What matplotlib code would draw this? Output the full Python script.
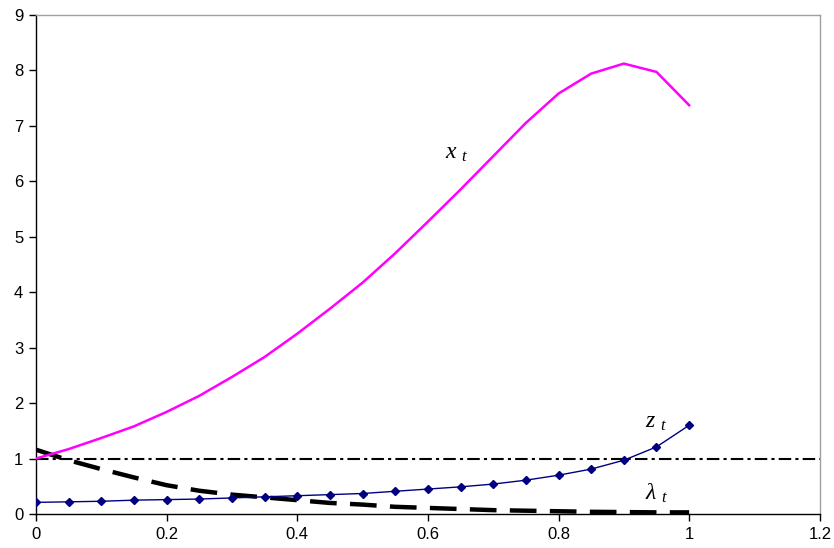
import matplotlib
matplotlib.use("Agg")
import matplotlib.pyplot as plt
import numpy as np

plt.rcParams['font.family'] = ['Liberation Sans', 'DejaVu Sans']
plt.rcParams['mathtext.fontset'] = 'custom'
plt.rcParams['mathtext.it'] = 'Liberation Serif:italic'
plt.rcParams['mathtext.rm'] = 'Liberation Serif'

t = [0.0, 0.05, 0.1, 0.15, 0.2, 0.25, 0.3, 0.35, 0.4, 0.45, 0.5,
     0.55, 0.6, 0.65, 0.7, 0.75, 0.8, 0.85, 0.9, 0.95, 1.0]
x_t = [1.0, 1.17, 1.37, 1.58, 1.84, 2.13, 2.47, 2.83, 3.25, 3.70, 4.17,
       4.70, 5.27, 5.85, 6.45, 7.05, 7.58, 7.94, 8.12, 7.97, 7.37]
z_t = [0.21, 0.22, 0.23, 0.25, 0.26, 0.27, 0.29, 0.31, 0.33, 0.35, 0.37,
       0.41, 0.45, 0.49, 0.54, 0.61, 0.70, 0.81, 0.97, 1.21, 1.60]
lam_t = [1.16, 0.97, 0.81, 0.66, 0.52, 0.42, 0.35, 0.30, 0.25, 0.20, 0.17,
         0.13, 0.11, 0.09, 0.07, 0.06, 0.05, 0.04, 0.035, 0.03, 0.03]
ref_level = 1.0

fig = plt.figure(figsize=(8.34, 5.48), dpi=100)
ax = fig.add_axes([0.043, 0.062, 0.940, 0.911])

ax.axhline(ref_level, color='black', lw=1.5, linestyle=(0, (6, 2, 1.5, 2)), zorder=1)
ax.plot(t, x_t, color='#ff00ff', lw=1.8, zorder=3)
ax.plot(t, z_t, color='#000080', lw=1.0, marker='D', markersize=4.5, zorder=4)
ax.plot(t, lam_t, color='black', lw=3.2, linestyle=(0, (6, 3)), zorder=2)

ax.text(0.627, 6.5, r'$x\ _t$', fontsize=17, ha='left', va='center')
ax.text(0.932, 1.66, r'$z\ _t$', fontsize=17, ha='left', va='center')
ax.text(0.932, 0.38, r'$\lambda\ _t$', fontsize=17, ha='left', va='center')

ax.set_xlim(0, 1.2)
ax.set_ylim(0, 9)
ax.set_xticks([0, 0.2, 0.4, 0.6, 0.8, 1.0, 1.2])
ax.set_xticklabels(['0', '0.2', '0.4', '0.6', '0.8', '1', '1.2'])
ax.set_yticks(range(0, 10))
ax.tick_params(axis='both', direction='out', length=5, width=1, labelsize=12, pad=4)
for s in ['top', 'right']:
    ax.spines[s].set_color('#a0a0a0')
    ax.spines[s].set_linewidth(1)
for s in ['left', 'bottom']:
    ax.spines[s].set_color('black')
    ax.spines[s].set_linewidth(1)

fig.savefig('out.png', dpi=100)
